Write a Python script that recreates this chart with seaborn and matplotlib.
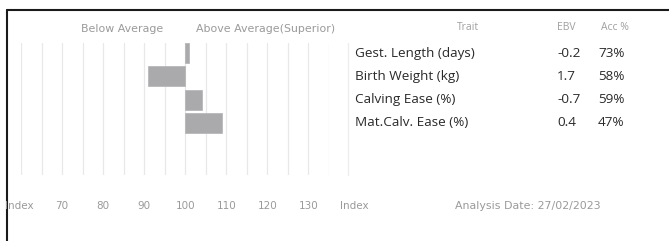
import numpy as np
import pandas as pd
import matplotlib
matplotlib.use("Agg")
import matplotlib.pyplot as plt
import matplotlib.transforms as mtransforms
from matplotlib.lines import Line2D
from matplotlib.ticker import MultipleLocator
import seaborn as sns

# data
traits = ["Gest. Length (days)", "Birth Weight (kg)", "Calving Ease (%)", "Mat.Calv. Ease (%)"]
index_values = [101, 91, 104, 109]
ebv = ["-0.2", "1.7", "-0.7", "0.4"]
acc = ["73%", "58%", "59%", "47%"]
tick_values = [70, 80, 90, 100, 110, 120, 130]
tick_labels = ["70", "80", "90", "100", "110", "120", "130"]
analysis_date = "27/02/2023"

BASE = 100
W, H = 669, 241

sns.set_theme(style="white")
plt.rcParams["font.family"] = ["DejaVu Sans"]

fig = plt.figure(figsize=(W / 100, H / 100), dpi=100)
fig.patch.set_facecolor("white")

# bar panel: x = 60..135, rows inverted
ax = fig.add_axes([21 / W, (H - 175) / H, 308 / W, 132 / H])
df = pd.DataFrame({"trait": traits, "dev": np.array(index_values) - BASE})
sns.barplot(data=df, x="dev", y="trait", orient="h", color="#aaaaac",
            saturation=1, width=0.86, edgecolor="#b8b8ba", linewidth=0.6, ax=ax)
ax.set_xlim(60 - BASE, 135 - BASE)
ax.set_ylim(5.23, -0.43)
ax.set_xticks([t - BASE for t in tick_values])
ax.set_xticklabels(tick_labels)
ax.xaxis.set_minor_locator(MultipleLocator(5))
ax.grid(True, axis="x", which="both", color="#e8e8e8", linewidth=0.9)
ax.set_axisbelow(True)
ax.tick_params(axis="x", which="both", length=0, pad=19, labelsize=7.5, labelcolor="#9a9a9a")
ax.set_yticks([])
ax.set_xlabel("")
ax.set_ylabel("")
for s in ax.spines.values():
    s.set_visible(False)
ax.set_facecolor("none")

gray = "#9a9a9a"
def px(x, y):
    return x / W, 1 - y / H

fig.text(*px(122, 29), "Below Average", ha="center", va="center", fontsize=7.9, color=gray)
fig.text(*px(266, 29), "Above Average(Superior)", ha="center", va="center", fontsize=7.9, color=gray)
fig.text(*px(5, 206), "Index", ha="left", va="center", fontsize=7.5, color=gray)
fig.text(*px(340, 206), "Index", ha="left", va="center", fontsize=7.5, color=gray)
fig.text(*px(455, 206), "Analysis Date: " + analysis_date, ha="left", va="center",
         fontsize=7.9, color=gray)

# table headers
fig.text(*px(468, 27), "Trait", ha="center", va="center", fontsize=7.5, color="#a0a0a0",
         family="Open Sans")
fig.text(*px(566, 27), "EBV", ha="center", va="center", fontsize=7.5, color="#a0a0a0",
         family="Open Sans")
fig.text(*px(615, 27), "Acc %", ha="center", va="center", fontsize=7.5, color="#a0a0a0",
         family="Open Sans")

# table rows aligned to bar rows
tr = mtransforms.blended_transform_factory(fig.transFigure, ax.transData)
for i, name in enumerate(traits):
    ax.text(355 / W, i, name, transform=tr, ha="left", va="center", fontsize=9.7,
            color="#2a2a2a", family="Open Sans", clip_on=False)
    ax.text(557 / W, i, ebv[i], transform=tr, ha="left", va="center", fontsize=9.7,
            color="#2a2a2a", family="Open Sans", clip_on=False)
    ax.text(598 / W, i, acc[i], transform=tr, ha="left", va="center", fontsize=9.7,
            color="#2a2a2a", family="Open Sans", clip_on=False)

# thin separator before the table
fig.add_artist(Line2D([348 / W, 348 / W], [1 - 43 / H, 1 - 175 / H], color="#ececec", lw=0.9))
# frame lines (top and left)
fig.add_artist(Line2D([7 / W, 1], [1 - 10 / H, 1 - 10 / H], color="#1a1a1a", lw=1.5))
fig.add_artist(Line2D([7 / W, 7 / W], [1 - 10 / H, 0], color="#1a1a1a", lw=1.5))

fig.savefig("out.png", dpi=100)
